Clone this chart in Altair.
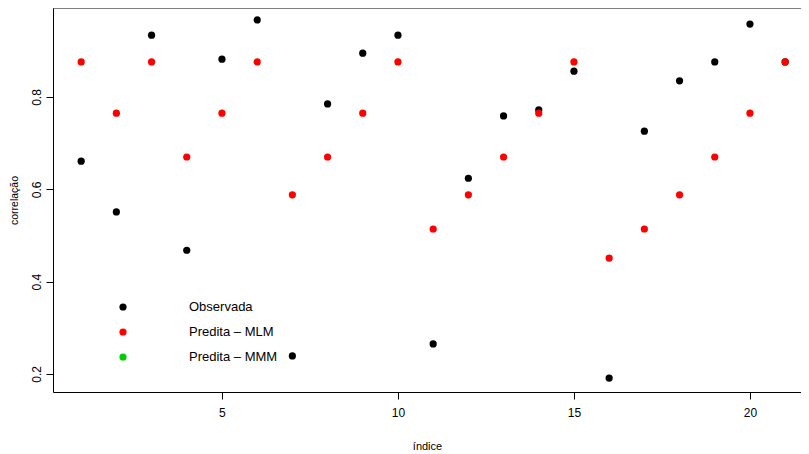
import altair as alt
import pandas as pd

indice = list(range(1, 22))
observada = [0.661, 0.551, 0.934, 0.468, 0.882, 0.967, 0.239, 0.785, 0.895, 0.934,
             0.265, 0.624, 0.759, 0.772, 0.856, 0.191, 0.726, 0.835, 0.876, 0.958, 0.876]
predita_mlm = [0.876, 0.765, 0.876, 0.670, 0.765, 0.876, 0.588, 0.670, 0.765, 0.876,
               0.514, 0.588, 0.670, 0.765, 0.876, 0.451, 0.514, 0.588, 0.670, 0.765, 0.876]
series = ["Observada", "Predita – MLM", "Predita – MMM"]
colors = ["#000000", "#FF0000", "#00CD00"]
x_ticks = [5, 10, 15, 20]
y_ticks = [0.2, 0.4, 0.6, 0.8]

W, H = 748, 384
FONT = "Liberation Sans"

df = pd.DataFrame({
    "indice": indice * 2,
    "valor": observada + predita_mlm,
    "serie": [series[0]] * len(indice) + [series[1]] * len(indice),
    "ordem": [0] * len(indice) + [1] * len(indice),
})

xscale = alt.Scale(domain=[0.2, 0.2 + W / 35.2], nice=False, zero=False)
yscale = alt.Scale(domain=[0.1608, 0.9929], nice=False, zero=False)

points = alt.Chart(df).mark_circle(size=52, opacity=1).encode(
    x=alt.X("indice:Q", scale=xscale,
            axis=alt.Axis(values=x_ticks, title="índice", tickSize=7, tickColor="black",
                          domainColor="black", labelPadding=8, labelFont=FONT, labelFontSize=12,
                          labelColor="black", grid=False, titleFont=FONT, titleFontSize=11,
                          titleFontWeight="normal", titleColor="black", titleY=54,
                          titleBaseline="middle")),
    y=alt.Y("valor:Q", scale=yscale,
            axis=alt.Axis(values=y_ticks, title="correlação", tickSize=7, tickColor="black",
                          domainColor="black", labelAngle=-90, labelAlign="center",
                          labelBaseline="bottom", labelPadding=3, labelFont=FONT,
                          labelFontSize=12, labelColor="black", grid=False, format=".1f",
                          titleFont=FONT, titleFontSize=10.5, titleFontWeight="normal",
                          titleColor="black", titleX=-39, titleY=H / 2,
                          titleBaseline="middle", titleAngle=-90)),
    color=alt.Color("serie:N", scale=alt.Scale(domain=series, range=colors), legend=None),
    order=alt.Order("ordem:Q"),
)

top_rule = alt.Chart(pd.DataFrame({"a": [0]})).mark_rule(color="black", strokeWidth=1).encode(
    x=alt.value(0), x2=alt.value(W), y=alt.value(0)
)

layers = [top_rule, points]
for i, (name, col) in enumerate(zip(series, colors)):
    ld = pd.DataFrame({"label": [name]})
    dot = alt.Chart(ld).mark_circle(size=52, opacity=1, color=col).encode(
        x=alt.value(70), y=alt.value(299 + 25 * i)
    )
    txt = alt.Chart(ld).mark_text(align="left", baseline="middle", font=FONT,
                                  fontSize=13, color="black").encode(
        x=alt.value(136), y=alt.value(299 + 25 * i), text="label:N"
    )
    layers += [dot, txt]

chart = alt.layer(*layers).properties(
    width=W, height=H,
    autosize=alt.AutoSizeParams(type="none"),
    padding={"left": 45, "top": 0, "right": 0, "bottom": 60},
    background="white",
).configure_view(stroke=None)

chart.save("out.html", embed_options={"renderer": "svg", "actions": False})
